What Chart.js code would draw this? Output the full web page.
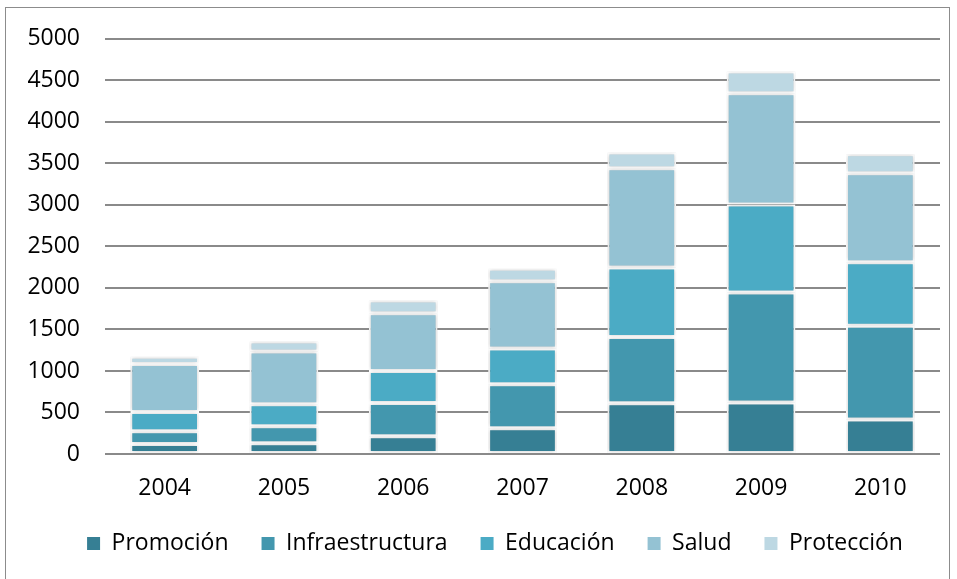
<!DOCTYPE html>
<html>
<head>
<meta charset="utf-8">
<script src="https://cdn.jsdelivr.net/npm/chart.js@4"></script>
<style>
  html, body { margin: 0; padding: 0; background: #fff; }
  #wrap { width: 957px; height: 579px; position: relative; }
</style>
</head>
<body>
<div id="wrap"><canvas id="c" width="957" height="579"></canvas></div>
<script>
const years = ['2004', '2005', '2006', '2007', '2008', '2009', '2010'];
const promocion = [120, 130, 215, 310, 610, 620, 415];
const infraestructura = [155, 205, 400, 530, 800, 1325, 1130];
const educacion = [230, 265, 385, 430, 835, 1060, 765];
const salud = [580, 635, 695, 810, 1195, 1340, 1070];
const proteccion = [85, 120, 155, 150, 190, 260, 230];
const seriesNames = ['Promoción', 'Infraestructura', 'Educación', 'Salud', 'Protección'];
const yTicks = [0, 500, 1000, 1500, 2000, 2500, 3000, 3500, 4000, 4500, 5000];

const colors = ['#367F94', '#4397AE', '#4BABC5', '#94C2D3', '#BDD8E3'];
const seriesData = [promocion, infraestructura, educacion, salud, proteccion];
const FONT = { family: 'Open Sans', size: 23 };

const frame = {
  id: 'frame',
  afterLayout(chart) {
    if (chart.legend) chart.legend.left = 50;
  },
  beforeDraw(chart) {
    const ctx = chart.ctx;
    ctx.save();
    ctx.fillStyle = '#ffffff';
    ctx.fillRect(0, 0, chart.width, chart.height);
    ctx.strokeStyle = '#8c8c8c';
    ctx.lineWidth = 1;
    ctx.strokeRect(5.5, 7.5, 944, 600);
    ctx.restore();
  },
  beforeDatasetsDraw(chart) {
    const ctx = chart.ctx;
    ctx.save();
    ctx.shadowColor = 'rgba(0,0,0,0.22)';
    ctx.shadowBlur = 4;
    ctx.shadowOffsetX = 0;
    ctx.shadowOffsetY = 0;
  },
  afterDatasetsDraw(chart) {
    chart.ctx.restore();
  }
};

new Chart(document.getElementById('c'), {
  type: 'bar',
  data: {
    labels: years,
    datasets: seriesNames.map((name, i) => ({
      label: name,
      data: seriesData[i],
      backgroundColor: colors[i],
      borderColor: '#ffffff',
      borderWidth: 2,
      borderSkipped: false,
      categoryPercentage: 0.8,
      barPercentage: 0.72
    }))
  },
  options: {
    responsive: false,
    animation: false,
    devicePixelRatio: 1,
    layout: { padding: { left: 0, right: 17, top: 37, bottom: 14 } },
    plugins: {
      legend: {
        position: 'bottom',
        labels: {
          boxWidth: 13,
          boxHeight: 13,
          padding: 33,
          color: '#000',
          font: FONT,
          generateLabels(chart) {
            return Chart.defaults.plugins.legend.labels.generateLabels(chart)
              .map(l => Object.assign(l, { lineWidth: 0, strokeStyle: 'rgba(0,0,0,0)' }));
          }
        }
      },
      tooltip: { enabled: false }
    },
    scales: {
      x: {
        stacked: true,
        grid: { display: false, drawTicks: false },
        border: { display: false },
        ticks: { color: '#000', padding: 21, font: FONT },
        afterFit(scale) { scale.height = 45; }
      },
      y: {
        stacked: true,
        min: 0,
        max: 5000,
        afterBuildTicks(scale) { scale.ticks = yTicks.map(v => ({ value: v })); },
        grid: { color: '#8a8a8a', lineWidth: 2, drawTicks: false },
        border: { display: false },
        ticks: { color: '#000', padding: 25, font: FONT, callback: v => String(v) },
        afterFit(scale) { scale.width = 105; }
      }
    }
  },
  plugins: [frame]
});
</script>
</body>
</html>
